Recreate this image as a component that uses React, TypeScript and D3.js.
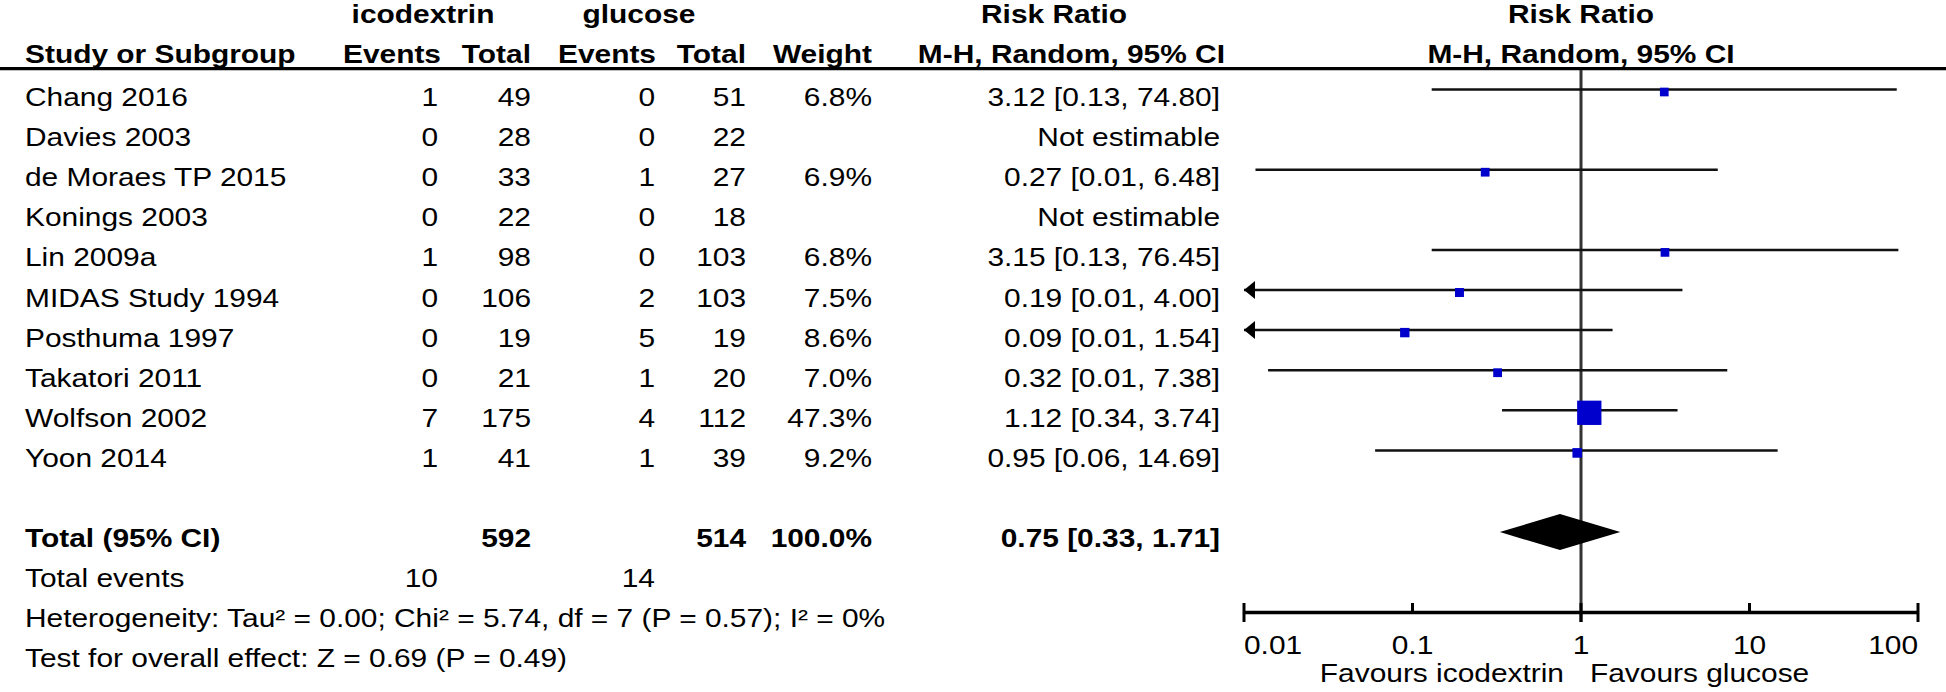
import React from "react";
import * as d3 from "d3";

// ---------- data ----------
const studies = [
  "Chang 2016",
  "Davies 2003",
  "de Moraes TP 2015",
  "Konings 2003",
  "Lin 2009a",
  "MIDAS Study 1994",
  "Posthuma 1997",
  "Takatori 2011",
  "Wolfson 2002",
  "Yoon 2014",
];
const icoEvents = [1, 0, 0, 0, 1, 0, 0, 0, 7, 1];
const icoTotal = [49, 28, 33, 22, 98, 106, 19, 21, 175, 41];
const gluEvents = [0, 0, 1, 0, 0, 2, 5, 1, 4, 1];
const gluTotal = [51, 22, 27, 18, 103, 103, 19, 20, 112, 39];
const weights: (number | null)[] = [6.8, null, 6.9, null, 6.8, 7.5, 8.6, 7.0, 47.3, 9.2];
const rr: (number | null)[] = [3.12, null, 0.27, null, 3.15, 0.19, 0.09, 0.32, 1.12, 0.95];
const ciLow: (number | null)[] = [0.13, null, 0.0117, null, 0.13, 0.009, 0.006, 0.0139, 0.34, 0.06];
const ciHigh: (number | null)[] = [74.8, null, 6.48, null, 76.45, 4.0, 1.54, 7.38, 3.74, 14.69];

const totalLabel = "Total (95% CI)";
const totalIco = 592;
const totalGlu = 514;
const totalWeight = 100.0;
const totalRR = 0.75;
const totalLow = 0.33;
const totalHigh = 1.71;
const totalEventsIco = 10;
const totalEventsGlu = 14;
const heterogeneityText =
  "Heterogeneity: Tau² = 0.00; Chi² = 5.74, df = 7 (P = 0.57); I² = 0%";
const overallText = "Test for overall effect: Z = 0.69 (P = 0.49)";

const axisTicks = [0.01, 0.1, 1, 10, 100];
const axisTickLabels = ["0.01", "0.1", "1", "10", "100"];
const favoursLeft = "Favours icodextrin";
const favoursRight = "Favours glucose";
const groupLeft = "icodextrin";
const groupRight = "glucose";

// ---------- layout / style ----------
const W = 1946;
const H = 692;
const FS = 26;
const SX = 1.15;
const FONT = "'Liberation Sans', Arial, Helvetica, sans-serif";
const COL = { name: 25, ev1: 438, tot1: 531, ev2: 655, tot2: 746, weight: 872, rr: 1220 };

const x = d3.scaleLog().domain([0.01, 100]).range([1244, 1918]);
const rowY = d3.scaleLinear().domain([0, 1]).range([92, 132.1]);
const boxSize = d3.scaleLinear().domain([6.8, 47.3]).range([8.7, 24.3]);

type TP = {
  x: number;
  y: number;
  anchor?: "start" | "middle" | "end";
  bold?: boolean;
  children: React.ReactNode;
};
const T = ({ x, y, anchor = "start", bold = false, children }: TP) => (
  <text
    transform={`translate(${x},${y}) scale(${SX},1)`}
    textAnchor={anchor}
    fontWeight={bold ? "bold" : "normal"}
    fontSize={FS}
    fontFamily={FONT}
    fill="#000"
  >
    {children}
  </text>
);

const fmt2 = (v: number) => v.toFixed(2);

export default function App() {
  const totalRow = 11;
  const yTot = rowY(totalRow);
  const axisY = 612.5;
  const lineTop = 70;
  const x1 = x(1);
  const [d0, d1] = x.domain();

  return (
    <svg
      width={W}
      height={H}
      viewBox={`0 0 ${W} ${H}`}
      style={{ position: "absolute", left: 0, top: 0, background: "#fff" }}
    >
      <rect x={0} y={0} width={W} height={H} fill="#fff" />
      {/* headers */}
      <T x={423} y={23} anchor="middle" bold>{groupLeft}</T>
      <T x={639} y={23} anchor="middle" bold>{groupRight}</T>
      <T x={981} y={23} bold>Risk Ratio</T>
      <T x={x1} y={23} anchor="middle" bold>Risk Ratio</T>

      <T x={COL.name} y={63} bold>Study or Subgroup</T>
      <T x={COL.ev1 + 3} y={63} anchor="end" bold>Events</T>
      <T x={COL.tot1} y={63} anchor="end" bold>Total</T>
      <T x={COL.ev2 + 1} y={63} anchor="end" bold>Events</T>
      <T x={COL.tot2} y={63} anchor="end" bold>Total</T>
      <T x={COL.weight} y={63} anchor="end" bold>Weight</T>
      <T x={COL.rr + 5} y={63} anchor="end" bold>M-H, Random, 95% CI</T>
      <T x={x1} y={63} anchor="middle" bold>M-H, Random, 95% CI</T>

      <line x1={0} x2={W} y1={68.7} y2={68.7} stroke="#000" strokeWidth={3.2} />

      {/* reference line */}
      <line x1={x1} x2={x1} y1={lineTop} y2={622} stroke="#333" strokeWidth={3} />

      {/* study rows */}
      {studies.map((s, i) => {
        const yc = rowY(i);
        const tb = yc + 14;
        const w = weights[i];
        const r = rr[i];
        const lo = ciLow[i];
        const hi = ciHigh[i];
        const est = r !== null && lo !== null && hi !== null;
        const clippedLow = lo !== null && lo < d0;
        const clippedHigh = hi !== null && hi > d1;
        const ly = yc - 2.5;
        const bs = w !== null ? boxSize(w) : 0;
        return (
          <g key={s}>
            <T x={COL.name} y={tb}>{s}</T>
            <T x={COL.ev1} y={tb} anchor="end">{icoEvents[i]}</T>
            <T x={COL.tot1} y={tb} anchor="end">{icoTotal[i]}</T>
            <T x={COL.ev2} y={tb} anchor="end">{gluEvents[i]}</T>
            <T x={COL.tot2} y={tb} anchor="end">{gluTotal[i]}</T>
            {w !== null && (
              <T x={COL.weight} y={tb} anchor="end">{w.toFixed(1)}%</T>
            )}
            <T x={COL.rr} y={tb} anchor="end">
              {est ? `${fmt2(r!)} [${fmt2(lo!)}, ${fmt2(hi!)}]` : "Not estimable"}
            </T>
            {est && (
              <g>
                <line
                  x1={x(Math.max(lo!, d0))}
                  x2={x(Math.min(hi!, d1))}
                  y1={ly}
                  y2={ly}
                  stroke="#111"
                  strokeWidth={2.5}
                />
                {clippedLow && (
                  <path
                    d={`M${x(d0)},${ly} L${x(d0) + 11},${ly - 9} L${x(d0) + 11},${ly + 9} Z`}
                    fill="#000"
                  />
                )}
                {clippedHigh && (
                  <path
                    d={`M${x(d1)},${ly} L${x(d1) - 11},${ly - 9} L${x(d1) - 11},${ly + 9} Z`}
                    fill="#000"
                  />
                )}
                <rect
                  x={x(r!) - bs / 2}
                  y={yc - bs / 2}
                  width={bs}
                  height={bs}
                  fill="#0000cc"
                />
              </g>
            )}
          </g>
        );
      })}

      {/* total row */}
      <T x={COL.name} y={yTot + 14} bold>{totalLabel}</T>
      <T x={COL.tot1} y={yTot + 14} anchor="end" bold>{totalIco}</T>
      <T x={COL.tot2} y={yTot + 14} anchor="end" bold>{totalGlu}</T>
      <T x={COL.weight} y={yTot + 14} anchor="end" bold>{totalWeight.toFixed(1)}%</T>
      <T x={COL.rr} y={yTot + 14} anchor="end" bold>
        {`${fmt2(totalRR)} [${fmt2(totalLow)}, ${fmt2(totalHigh)}]`}
      </T>
      <path
        d={`M${x(totalLow)},${yTot - 1} L${x(totalRR)},${yTot - 19} L${x(totalHigh)},${yTot - 1} L${x(totalRR)},${yTot + 17} Z`}
        fill="#000"
      />

      {/* footer */}
      <T x={COL.name} y={rowY(12) + 14}>Total events</T>
      <T x={COL.ev1} y={rowY(12) + 14} anchor="end">{totalEventsIco}</T>
      <T x={COL.ev2} y={rowY(12) + 14} anchor="end">{totalEventsGlu}</T>
      <T x={COL.name} y={rowY(13) + 14}>{heterogeneityText}</T>
      <T x={COL.name} y={rowY(14) + 14}>{overallText}</T>

      {/* axis */}
      <line x1={x(d0)} x2={x(d1)} y1={axisY} y2={axisY} stroke="#000" strokeWidth={3.5} />
      {axisTicks.map((t, i) => {
        const long = i === 0 || i === axisTicks.length - 1 || t === 1;
        return (
          <line
            key={t}
            x1={x(t)}
            x2={x(t)}
            y1={603}
            y2={long ? 622 : axisY}
            stroke="#000"
            strokeWidth={3}
          />
        );
      })}
      {axisTicks.map((t, i) => (
        <T
          key={"l" + t}
          x={x(t)}
          y={654}
          anchor={i === 0 ? "start" : i === axisTicks.length - 1 ? "end" : "middle"}
        >
          {axisTickLabels[i]}
        </T>
      ))}
      <T x={x1 - 17} y={682} anchor="end">{favoursLeft}</T>
      <T x={x1 + 9} y={682}>{favoursRight}</T>
    </svg>
  );
}
